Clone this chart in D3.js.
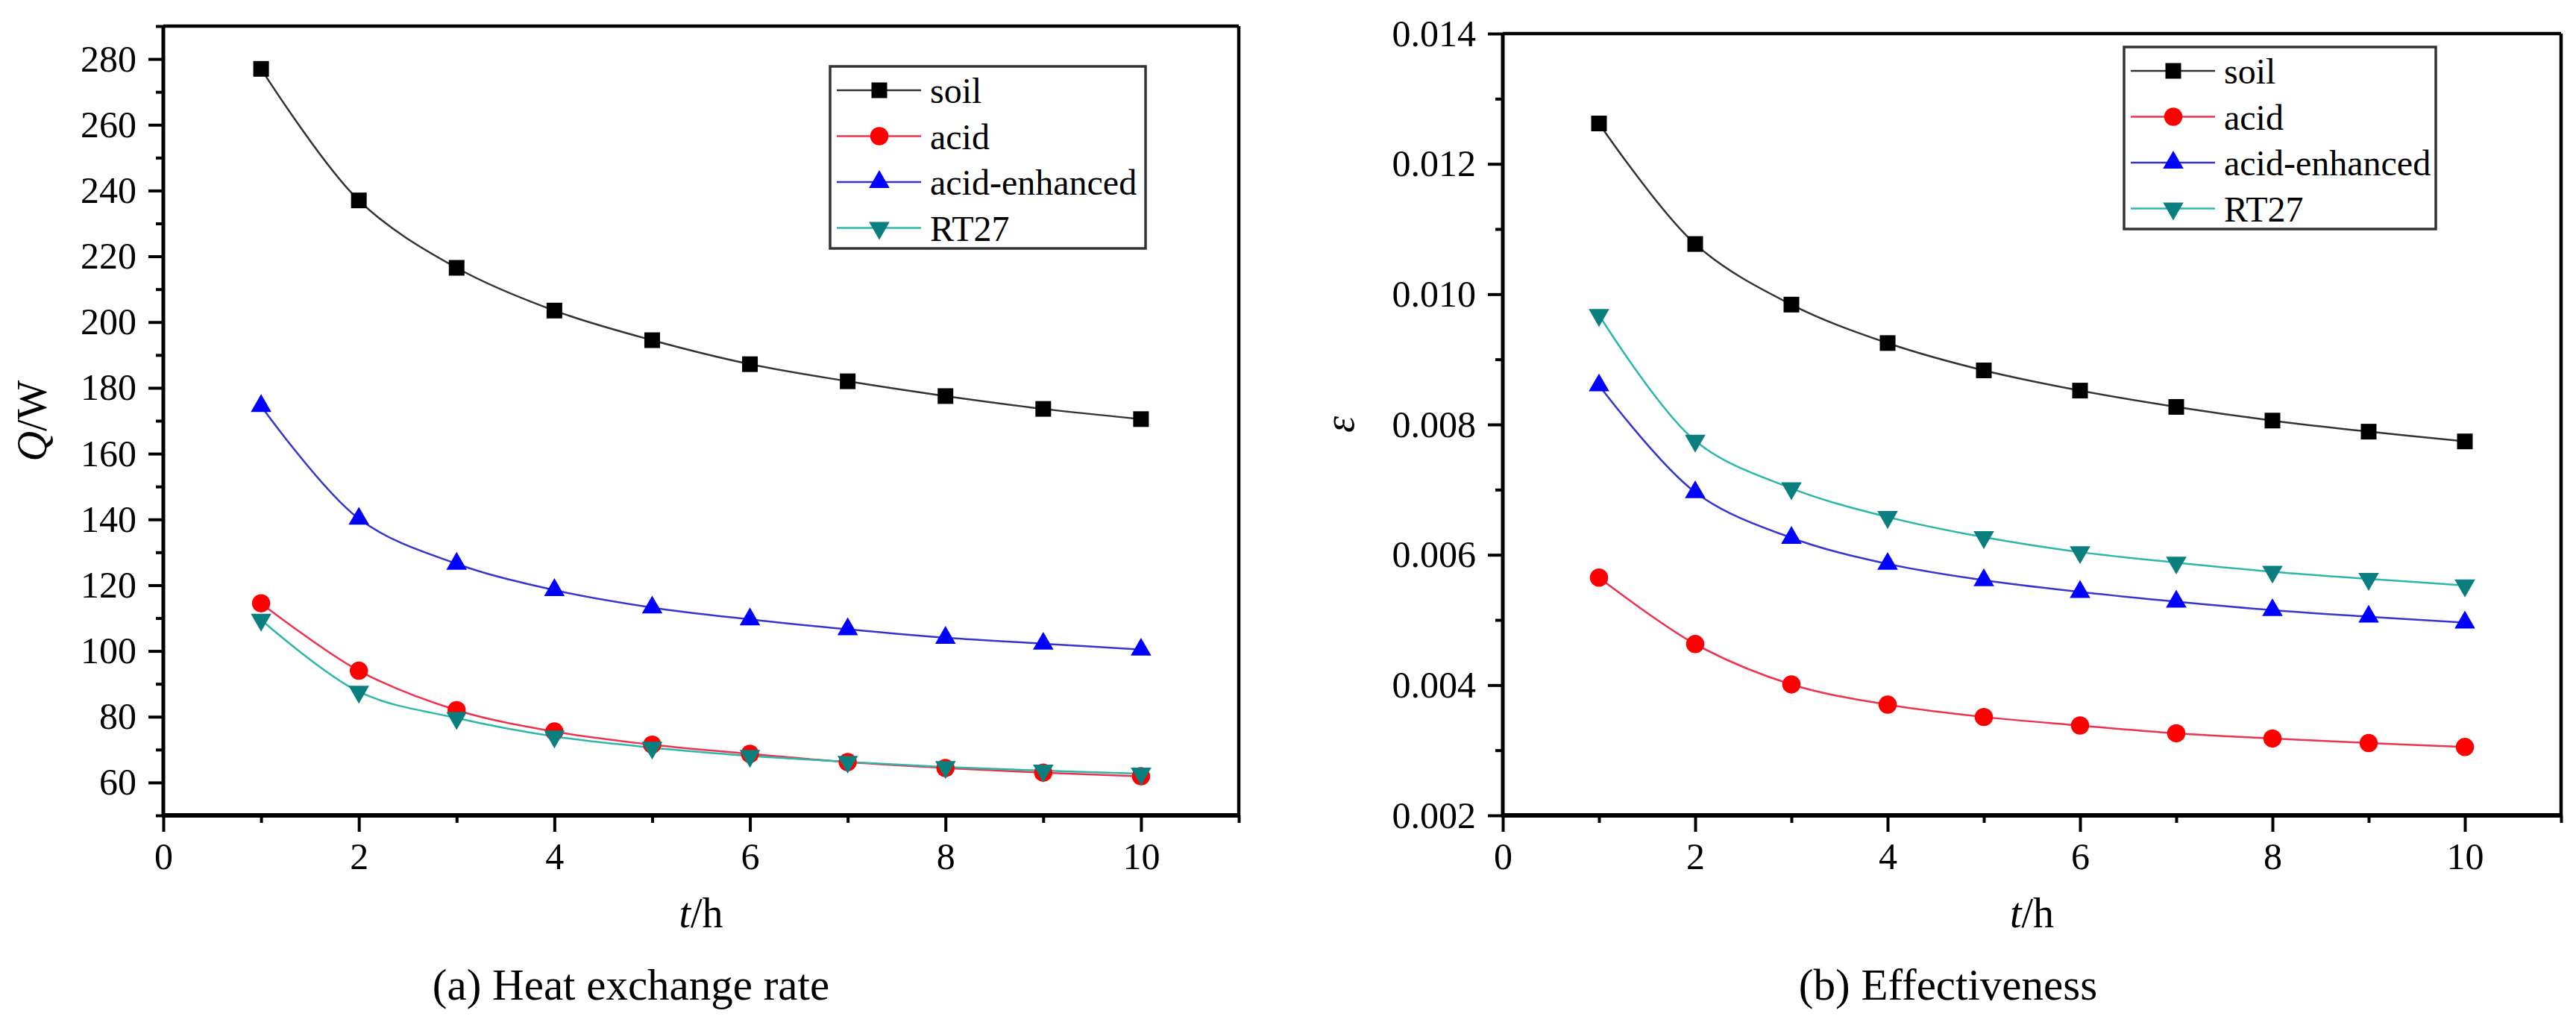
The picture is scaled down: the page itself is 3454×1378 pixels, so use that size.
<!DOCTYPE html>
<html>
<head>
<meta charset="utf-8">
<script src="https://cdn.jsdelivr.net/npm/d3@7"></script>
<style>
    body { margin: 0; background: #fff; }
    svg text { font-family: "Liberation Serif", "DejaVu Serif", "Times New Roman", serif !important; fill: #000; }
</style>
</head>
<body>
<svg id="figure"></svg>
<script>
/** Data **/
var hours = [1, 2, 3, 4, 5, 6, 7, 8, 9, 10];
var seriesNames = ["soil", "acid", "acid-enhanced", "RT27"];

var soilQ     = [277, 237, 216.5, 203.5, 194.5, 187.2, 182, 177.5, 173.6, 170.5];
var acidQ     = [114.5, 94, 82, 75.5, 71.5, 68.7, 66.2, 64.4, 63, 61.9];
var enhancedQ = [174.5, 140.2, 126.5, 118.5, 113.2, 109.6, 106.6, 104, 102.2, 100.4];
var rt27Q     = [109.5, 87.6, 79.6, 74, 70.6, 68.1, 66.3, 64.7, 63.6, 62.7];

var soilE     = [0.01262, 0.01077, 0.00984, 0.00925, 0.00883, 0.00852, 0.00827, 0.00806, 0.00789, 0.00774];
var acidE     = [0.00565, 0.00463, 0.00401, 0.00370, 0.00351, 0.00338, 0.00326, 0.00318, 0.00311, 0.00305];
var enhancedE = [0.00860, 0.00696, 0.00626, 0.00586, 0.00561, 0.00543, 0.00528, 0.00515, 0.00505, 0.00496];
var rt27E     = [0.00968, 0.00775, 0.00702, 0.00658, 0.00627, 0.00604, 0.00588, 0.00574, 0.00563, 0.00553];

var xMajorTicks = [0, 2, 4, 6, 8, 10];
var xMinorTicks = [1, 3, 5, 7, 9, 11];
var qMajorTicks = [60, 80, 100, 120, 140, 160, 180, 200, 220, 240, 260, 280];
var qMinorTicks = [50, 70, 90, 110, 130, 150, 170, 190, 210, 230, 250, 270, 290];
var eMajorTicks = [0.002, 0.004, 0.006, 0.008, 0.010, 0.012, 0.014];
var eMinorTicks = [0.003, 0.005, 0.007, 0.009, 0.011, 0.013];

/** Styles **/
var serifFont = "'Liberation Serif', 'DejaVu Serif', 'Times New Roman', serif";
var lineColors   = ["#333333", "#ee3350", "#3535d0", "#2cb8a8"];
var markerColors = ["#000000", "#ff0000", "#0000ff", "#0a7f7f"];
var markerShapes = ["square", "circle", "up", "down"];

var fig_width = 3454;
var fig_height = 1378;

var svg = d3.select("#figure")
    .attr("width", fig_width)
    .attr("height", fig_height)
    .attr("font-family", serifFont);


/**
 * Returns the path of a marker, centred on 0,0.
 */
function markerPath(shape)
{
    if (shape == "square")
        return d3.symbol().type(d3.symbolSquare).size(441)();
    if (shape == "circle")
        return d3.symbol().type(d3.symbolCircle).size(470)();
    return d3.symbol().type(d3.symbolTriangle).size(330)();
}

function markerTransform(shape, x, y)
{
    var t = "translate(" + x + "," + y + ")";
    if (shape == "down") t += " rotate(180)";
    return t;
}


/**
 * Draw one panel: frame, axes, curves, legend and captions.
 */
function drawPanel(p)
{
    var g = svg.append("g");

    var xScale = d3.scaleLinear()
        .domain([0, 11])
        .range([p.left, p.right]);

    var yScale = d3.scaleLinear()
        .domain(p.yDomain)
        .range([p.bottom, p.top]);

    // Major and minor ticks, outward.
    var xAxis = d3.axisBottom(xScale)
        .tickValues(xMajorTicks)
        .tickSize(22).tickSizeOuter(0).tickPadding(14)
        .tickFormat(d3.format("d"));
    var xAxisMinor = d3.axisBottom(xScale)
        .tickValues(xMinorTicks)
        .tickSize(10).tickSizeOuter(0)
        .tickFormat("");
    var yAxis = d3.axisLeft(yScale)
        .tickValues(p.yMajor)
        .tickSize(20).tickSizeOuter(0).tickPadding(16)
        .tickFormat(d3.format(p.yFormat));
    var yAxisMinor = d3.axisLeft(yScale)
        .tickValues(p.yMinor)
        .tickSize(10).tickSizeOuter(0)
        .tickFormat("");

    var axes = [
        [xAxis, "translate(0," + p.bottom + ")"],
        [xAxisMinor, "translate(0," + p.bottom + ")"],
        [yAxis, "translate(" + p.left + ",0)"],
        [yAxisMinor, "translate(" + p.left + ",0)"]
    ];
    axes.forEach(function(a) {
        var ag = g.append("g")
            .attr("transform", a[1])
            .call(a[0])
            .attr("font-family", serifFont);
        ag.select(".domain").remove();
        ag.selectAll(".tick line")
            .attr("stroke", "#000")
            .attr("stroke-width", 4);
        ag.selectAll(".tick text")
            .attr("fill", "#000")
            .attr("font-size", 50);
    });

    // Frame.
    g.append("line")
        .attr("x1", p.left).attr("x2", p.right)
        .attr("y1", p.top).attr("y2", p.top)
        .attr("stroke", "#000").attr("stroke-width", 4.5);
    g.append("line")
        .attr("x1", p.right).attr("x2", p.right)
        .attr("y1", p.top).attr("y2", p.bottom)
        .attr("stroke", "#000").attr("stroke-width", 4.5);
    g.append("line")
        .attr("x1", p.left).attr("x2", p.left)
        .attr("y1", p.top).attr("y2", p.bottom + 2)
        .attr("stroke", "#000").attr("stroke-width", 5);
    g.append("line")
        .attr("x1", p.left - 2).attr("x2", p.right + 2)
        .attr("y1", p.bottom).attr("y2", p.bottom)
        .attr("stroke", "#000").attr("stroke-width", 6);

    // Curves.
    var line = d3.line()
        .x(function(d, i) { return xScale(hours[i]); })
        .y(function(d) { return yScale(d); })
        .curve(d3.curveCatmullRom.alpha(0.5));

    p.series.forEach(function(values, s) {
        g.append("path")
            .attr("d", line(values))
            .attr("fill", "none")
            .attr("stroke", lineColors[s])
            .attr("stroke-width", 2.5);
    });

    // Markers, drawn in series order so RT27 sits on top.
    p.series.forEach(function(values, s) {
        g.selectAll(null)
            .data(values)
            .enter()
            .append("path")
            .attr("d", markerPath(markerShapes[s]))
            .attr("transform", function(d, i) {
                return markerTransform(markerShapes[s], xScale(hours[i]), yScale(d));
            })
            .attr("fill", markerColors[s]);
    });

    // Legend.
    var lg = g.append("g")
        .attr("transform", "translate(" + p.legendX + "," + p.legendY + ")");
    lg.append("rect")
        .attr("width", p.legendW).attr("height", 244)
        .attr("fill", "#fff")
        .attr("stroke", "#333").attr("stroke-width", 3.5);

    seriesNames.forEach(function(name, s) {
        var ry = 32 + s * 61.5;
        lg.append("line")
            .attr("x1", 9).attr("x2", 122)
            .attr("y1", ry).attr("y2", ry)
            .attr("stroke", lineColors[s]).attr("stroke-width", 2.5);
        lg.append("path")
            .attr("d", markerPath(markerShapes[s]))
            .attr("transform", markerTransform(markerShapes[s], 66, ry))
            .attr("fill", markerColors[s]);
        lg.append("text")
            .attr("x", 134).attr("y", ry + 17)
            .attr("font-size", 48)
            .text(name);
    });

    // Axis titles.
    var xt = g.append("text")
        .attr("x", (p.left + p.right) / 2)
        .attr("y", 1243)
        .attr("text-anchor", "middle")
        .attr("font-size", 56);
    xt.append("tspan").attr("font-style", "italic").text("t");
    xt.append("tspan").text("/h");

    var yt = g.append("text")
        .attr("transform", "translate(" + p.yTitleX + "," + ((p.top + p.bottom) / 2) + ") rotate(-90)")
        .attr("text-anchor", "middle")
        .attr("font-size", 56);
    p.yTitle.forEach(function(part) {
        yt.append("tspan")
            .attr("font-style", part[1] ? "italic" : "normal")
            .text(part[0]);
    });

    // Caption under the panel.
    g.append("text")
        .attr("x", p.captionX)
        .attr("y", 1340)
        .attr("text-anchor", "middle")
        .attr("font-size", 59)
        .text(p.caption);
}


drawPanel({
    left: 219, right: 1661, top: 35, bottom: 1093,
    yDomain: [50, 290],
    yMajor: qMajorTicks, yMinor: qMinorTicks, yFormat: "d",
    series: [soilQ, acidQ, enhancedQ, rt27Q],
    legendX: 1113, legendY: 89, legendW: 423,
    yTitleX: 62, yTitle: [["Q", true], ["/W", false]],
    captionX: 846, caption: "(a) Heat exchange rate"
});

drawPanel({
    left: 2015, right: 3434, top: 45, bottom: 1093,
    yDomain: [0.002, 0.014],
    yMajor: eMajorTicks, yMinor: eMinorTicks, yFormat: ".3f",
    series: [soilE, acidE, enhancedE, rt27E],
    legendX: 2848, legendY: 63, legendW: 418,
    yTitleX: 1815, yTitle: [["\u03b5", true]],
    captionX: 2612, caption: "(b) Effectiveness"
});
</script>
</body>
</html>
